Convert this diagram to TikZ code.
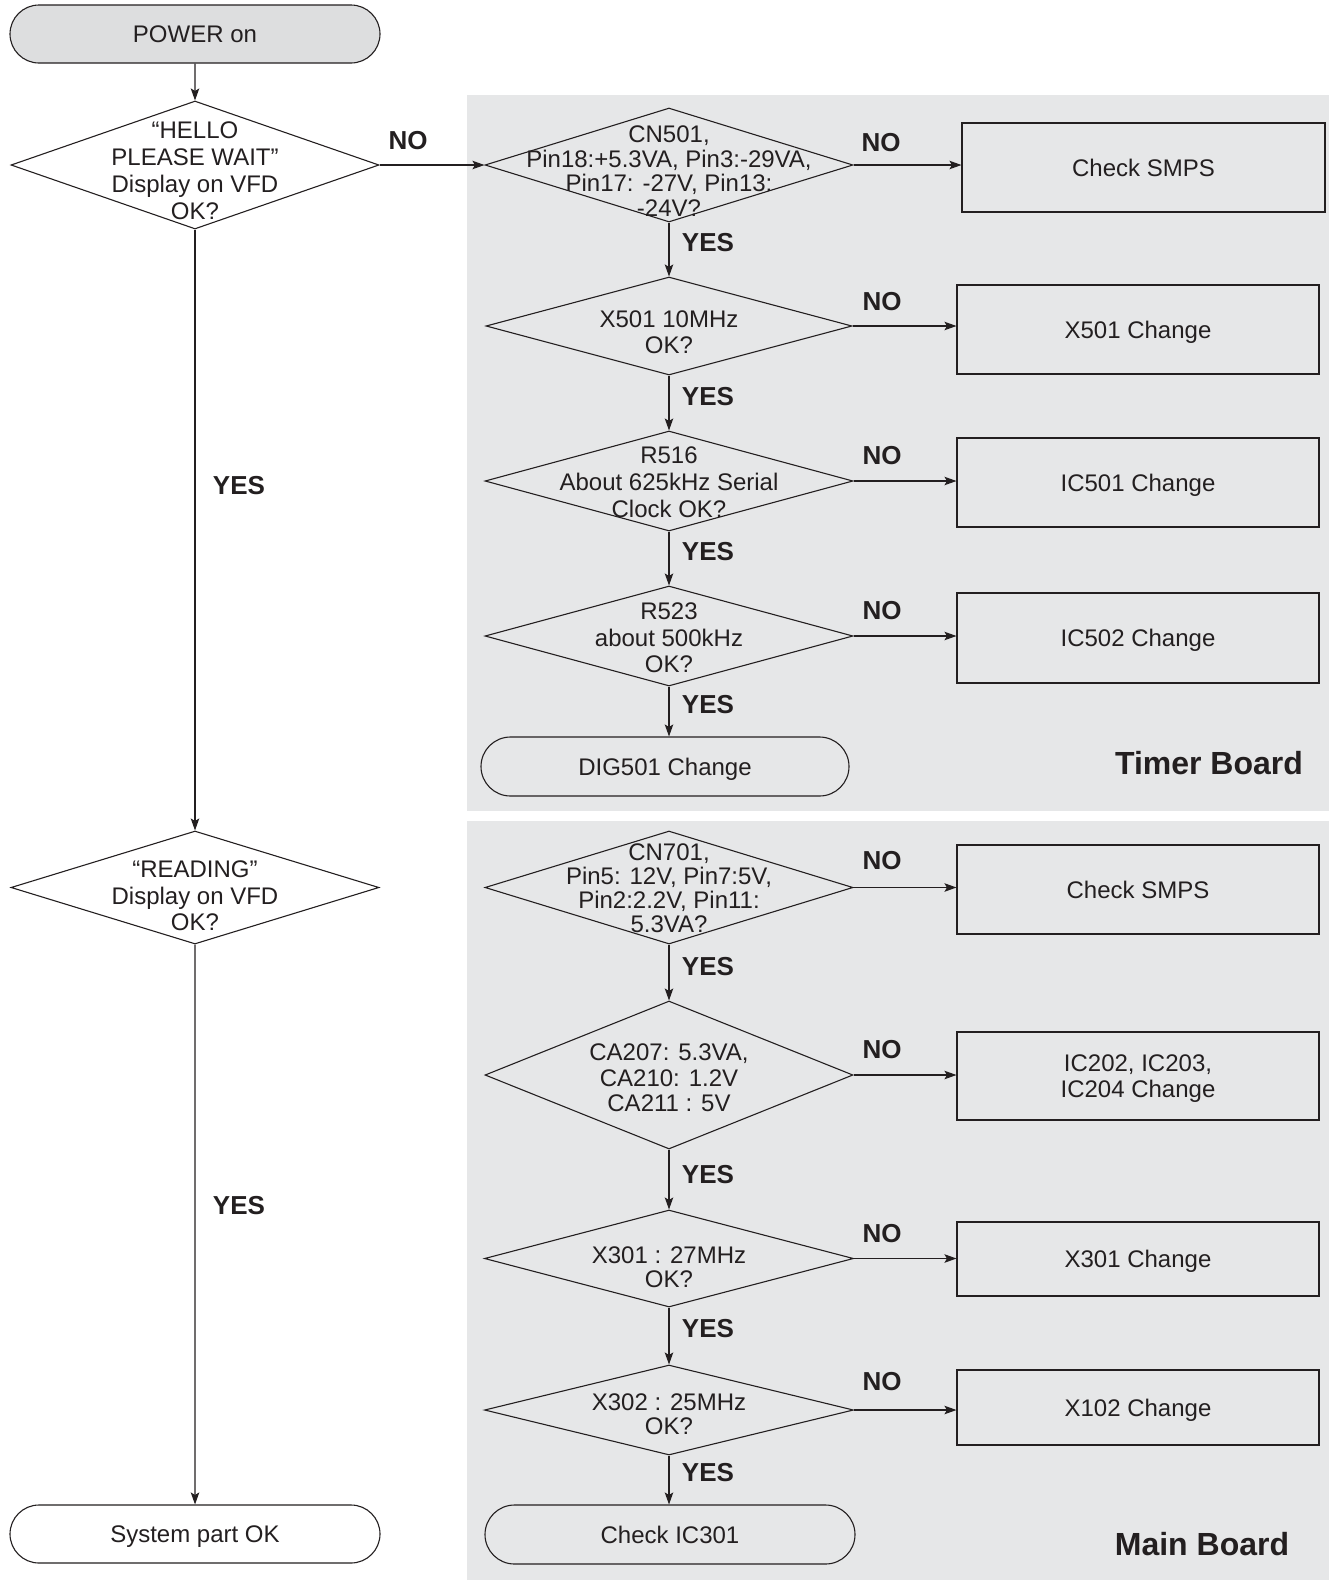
\documentclass[tikz,border=0pt]{standalone}
\usepackage{fontspec}
\setmainfont{Liberation Sans}
\usetikzlibrary{shapes.geometric,shapes.misc,arrows.meta}
\definecolor{panel}{RGB}{230,231,232}
\definecolor{startfill}{RGB}{221,222,223}
\definecolor{ink}{RGB}{35,31,32}
\begin{document}
\begin{tikzpicture}[x=1pt,y=-1pt,
  base/.style={draw=ink, line width=1.1pt, inner sep=0pt},
  pill/.style={base, rounded rectangle, minimum width=370pt, minimum height=58pt,
    text=ink, text depth=0pt, font=\fontsize{24}{27}\selectfont},
  dia/.style={base, diamond, minimum width=368pt},
  act/.style={base, rectangle, minimum width=362pt, minimum height=89pt,
    text=ink, text depth=0pt, align=center, font=\fontsize{24}{26}\selectfont},
  txt/.style={align=center, inner sep=0pt, text=ink},
  ans/.style={text=ink, inner sep=0pt, font=\bfseries\fontsize{26}{30}\selectfont},
  board/.style={text=ink, inner sep=0pt, font=\bfseries\fontsize{32}{38}\selectfont},
  flow/.style={draw=ink, line width=1.1pt, -{Stealth[length=12pt,width=8.5pt,inset=2.5pt]}}
]
\useasboundingbox (0,0) rectangle (1329,1580);

% shaded board areas
\fill[panel] (467,95) rectangle (1329,811);
\fill[panel] (467,821) rectangle (1329,1580);

% left column
\node[pill, fill=startfill] (power) at (195,34) {POWER on};
\node[dia, minimum height=128pt] (d1) at (195,165) {};
\node[txt, font=\fontsize{24}{27}\selectfont] (t1) at (195,171)
  {“HELLO\\PLEASE WAIT”\\Display on VFD\\OK?};
\node[dia, minimum height=113pt] (d2) at (195,887.5) {};
\node[txt, font=\fontsize{24}{26.5}\selectfont] (t2) at (195,896)
  {“READING”\\Display on VFD\\OK?};
\node[pill, fill=white] (sysok) at (195,1534) {System part OK};

% timer board
\node[dia, minimum height=114pt] (a1) at (669,165) {};
\node[txt, font=\fontsize{24}{24.5}\selectfont] (s1) at (669,171)
  {CN501,\\Pin18:+5.3VA, Pin3:-29VA,\\Pin17: -27V, Pin13:\\-24V?};
\node[dia, minimum width=366pt, minimum height=98pt] (a2) at (669,326) {};
\node[txt, font=\fontsize{24}{26}\selectfont] (s2) at (669,332)
  {X501 10MHz\\OK?};
\node[dia, minimum height=100pt] (a3) at (669,481) {};
\node[txt, font=\fontsize{24}{27}\selectfont] (s3) at (669,482)
  {R516\\About 625kHz Serial\\Clock OK?};
\node[dia, minimum height=100pt] (a4) at (669,636) {};
\node[txt, font=\fontsize{24}{26.5}\selectfont] (s4) at (669,638)
  {R523\\about 500kHz\\OK?};
\node[pill, minimum width=368pt, minimum height=59pt] (dig) at (665,766.5) {DIG501 Change};

\node[act, minimum width=363pt] (b1) at (1143.5,167.5) {Check SMPS};
\node[act] (b2) at (1138,329.5) {X501 Change};
\node[act] (b3) at (1138,482.5) {IC501 Change};
\node[act, minimum height=90pt] (b4) at (1138,638) {IC502 Change};
\node[board] (tb) at (1209,763) {Timer Board};

% main board
\node[dia, minimum height=113pt] (a5) at (669,887.5) {};
\node[txt, font=\fontsize{24}{24}\selectfont] (s5) at (669,888)
  {CN701,\\Pin5: 12V, Pin7:5V,\\Pin2:2.2V, Pin11:\\5.3VA?};
\node[dia, minimum height=148pt] (a6) at (669,1075) {};
\node[txt, font=\fontsize{24}{25.5}\selectfont] (s6) at (669,1078)
  {CA207: 5.3VA,\\CA210: 1.2V\\CA211 : 5V};
\node[dia, minimum width=369pt, minimum height=97pt] (a7) at (669,1258.5) {};
\node[txt, font=\fontsize{24}{24.5}\selectfont] (s7) at (669,1267)
  {X301 : 27MHz\\OK?};
\node[dia, minimum width=369pt, minimum height=90pt] (a8) at (669,1410) {};
\node[txt, font=\fontsize{24}{24}\selectfont] (s8) at (669,1414)
  {X302 : 25MHz\\OK?};
\node[pill, minimum height=59pt] (ic) at (670,1534.5) {Check IC301};

\node[act] (b5) at (1138,889.5) {Check SMPS};
\node[act, minimum height=88pt] (b6) at (1138,1076) {IC202, IC203,\\IC204 Change};
\node[act, minimum height=74pt] (b7) at (1138,1259) {X301 Change};
\node[act, minimum height=75pt] (b8) at (1138,1407.5) {X102 Change};
\node[board] (mb) at (1202,1544) {Main Board};

% connectors
\draw[flow] (power) -- (d1);
\draw[flow] (d1) -- (d2);
\draw[flow] (d2) -- (sysok);
\draw[flow] (d1.east) -- (a1.west);

\draw[flow] (a1.south) -- (a2.north);
\draw[flow] (a2.south) -- (a3.north);
\draw[flow] (a3.south) -- (a4.north);
\draw[flow] (a4.south) -- (a4.south |- dig.north);
\draw[flow] (a5.south) -- (a6.north);
\draw[flow] (a6.south) -- (a7.north);
\draw[flow] (a7.south) -- (a8.north);
\draw[flow] (a8.south) -- (a8.south |- ic.north);

\foreach \d/\b in {a1/b1,a2/b2,a3/b3,a4/b4,a5/b5,a6/b6,a7/b7,a8/b8}
  \draw[flow] (\d.east) -- (\d.east -| \b.west);

% answer labels
\node[ans] (n0) at (408,141) {NO};
\node[ans] (y0) at (239,486) {YES};
\node[ans] (y00) at (239,1206) {YES};
\foreach \x/\y in {881/143,882/302,882/456,882/611,882/861,882/1050,882/1234,882/1382}
  \node[ans] at (\x,\y) {NO};
\foreach \x/\y in {708/243,708/397,708/552,708/705,708/967,708/1175,708/1329,708/1473}
  \node[ans] at (\x,\y) {YES};
\end{tikzpicture}
\end{document}
